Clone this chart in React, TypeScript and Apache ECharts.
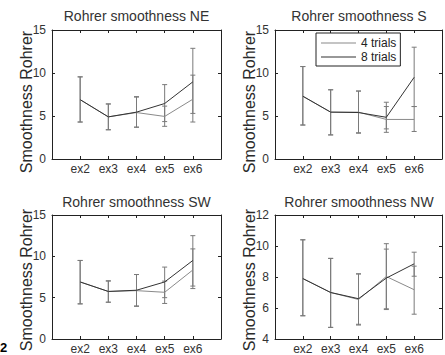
import React, { useEffect, useRef } from "react";
import * as echarts from "echarts";

const categories = ["ex2", "ex3", "ex4", "ex5", "ex6"];
const titles = ["Rohrer smoothness NE", "Rohrer smoothness S", "Rohrer smoothness SW", "Rohrer smoothness NW"];
const yName = "Smoothness Rohrer";
const legendNames = ["4 trials", "8 trials"];

// NE
const neMean4 = [6.9, 4.9, 5.4, 4.95, 6.95];
const neMean8 = [6.9, 4.9, 5.45, 6.45, 8.97];
const neLow4 = [4.3, 3.4, 3.7, 3.8, 4.3];
const neHigh4 = [9.55, 6.4, 7.2, 6.15, 9.75];
const neLow8 = [4.3, 3.4, 3.7, 4.35, 5.3];
const neHigh8 = [9.55, 6.4, 7.25, 8.65, 12.87];

// S
const sMean4 = [7.3, 5.45, 5.45, 4.6, 4.6];
const sMean8 = [7.3, 5.45, 5.4, 4.85, 9.5];
const sLow4 = [3.95, 2.8, 3.0, 3.5, 3.2];
const sHigh4 = [10.75, 8.05, 7.9, 6.1, 6.1];
const sLow8 = [3.95, 2.8, 3.05, 3.1, 6.1];
const sHigh8 = [10.75, 8.05, 7.9, 6.6, 13.0];

// SW
const swMean4 = [6.9, 5.75, 5.85, 5.65, 8.35];
const swMean8 = [6.9, 5.75, 5.9, 6.9, 9.5];
const swLow4 = [4.25, 4.45, 3.95, 4.3, 6.1];
const swHigh4 = [9.5, 7.0, 7.8, 7.0, 10.9];
const swLow8 = [4.25, 4.45, 4.0, 5.0, 6.4];
const swHigh8 = [9.5, 7.05, 7.8, 8.7, 12.5];

// NW
const nwMean4 = [7.9, 7.0, 6.55, 8.03, 7.18];
const nwMean8 = [7.9, 7.0, 6.6, 7.93, 8.85];
const nwLow4 = [5.5, 4.75, 4.9, 5.9, 5.6];
const nwHigh4 = [10.4, 9.2, 8.2, 10.15, 8.7];
const nwLow8 = [5.5, 4.75, 4.95, 5.95, 8.05];
const nwHigh8 = [10.4, 9.2, 8.2, 9.8, 9.6];

const yRanges = [
  { min: 0, max: 15, interval: 5 },
  { min: 0, max: 15, interval: 5 },
  { min: 0, max: 15, interval: 5 },
  { min: 4, max: 12, interval: 2 },
];

const panels = [
  { m4: neMean4, m8: neMean8, l4: neLow4, h4: neHigh4, l8: neLow8, h8: neHigh8 },
  { m4: sMean4, m8: sMean8, l4: sLow4, h4: sHigh4, l8: sLow8, h8: sHigh8 },
  { m4: swMean4, m8: swMean8, l4: swLow4, h4: swHigh4, l8: swLow8, h8: swHigh8 },
  { m4: nwMean4, m8: nwMean8, l4: nwLow4, h4: nwHigh4, l8: nwLow8, h8: nwHigh8 },
];

const grids = [
  { left: 52, top: 30, width: 169, height: 129 },
  { left: 275, top: 30, width: 168, height: 129 },
  { left: 52, top: 215, width: 169, height: 124 },
  { left: 275, top: 215, width: 168, height: 125 },
];

const FONT = "'Liberation Sans', Arial, Helvetica, sans-serif";
const AXIS = "#222";
const C4 = "#8a8a8a";
const C8 = "#333333";
const CERR = "#7a7a7a";

export default function App() {
  const ref = useRef<HTMLDivElement>(null);
  useEffect(() => {
    if (!ref.current) return;
    const chart = echarts.init(ref.current, undefined, { renderer: "svg" });

    const xAxes: any[] = [];
    const yAxes: any[] = [];
    const series: any[] = [];
    const graphics: any[] = [];

    grids.forEach((g, i) => {
      const tick = { show: true, inside: true, length: 3, lineStyle: { color: AXIS, width: 1 } };
      const line = { show: true, onZero: false, lineStyle: { color: AXIS, width: 1 } };
      xAxes.push({
        type: "value", gridIndex: i, position: "bottom", min: 0, max: 6, interval: 1,
        axisLine: line, axisTick: tick, splitLine: { show: false },
        axisLabel: {
          margin: 4, fontSize: 12, color: "#333", fontFamily: FONT,
          formatter: (v: number) => (v >= 1 && v <= 5 ? categories[v - 1] : ""),
        },
      });
      xAxes.push({
        type: "value", gridIndex: i, position: "top", min: 0, max: 6, interval: 1,
        axisLine: line, axisTick: tick, splitLine: { show: false }, axisLabel: { show: false },
      });
      const r = yRanges[i];
      yAxes.push({
        type: "value", gridIndex: i, position: "left", min: r.min, max: r.max, interval: r.interval,
        axisLine: line, axisTick: tick, splitLine: { show: false },
        axisLabel: { margin: 6, fontSize: 12, color: "#333", fontFamily: FONT },
      });
      yAxes.push({
        type: "value", gridIndex: i, position: "right", min: r.min, max: r.max, interval: r.interval,
        axisLine: line, axisTick: tick, splitLine: { show: false }, axisLabel: { show: false },
      });

      const p = panels[i];
      const errData = (lo: number[], hi: number[]) => lo.map((v, k) => [k + 1, v, hi[k]]);
      const renderErr = (params: any, api: any) => {
        const x = api.value(0);
        const a = api.coord([x, api.value(1)]);
        const b = api.coord([x, api.value(2)]);
        const w = 2.5;
        const st = { stroke: CERR, lineWidth: 1 };
        return {
          type: "group",
          children: [
            { type: "line", shape: { x1: a[0], y1: a[1], x2: b[0], y2: b[1] }, style: st },
            { type: "line", shape: { x1: a[0] - w, y1: a[1], x2: a[0] + w, y2: a[1] }, style: st },
            { type: "line", shape: { x1: b[0] - w, y1: b[1], x2: b[0] + w, y2: b[1] }, style: st },
          ],
        };
      };
      series.push({
        type: "custom", xAxisIndex: 2 * i, yAxisIndex: 2 * i, renderItem: renderErr,
        data: errData(p.l4, p.h4), encode: { x: 0, y: [1, 2] }, silent: true,
      });
      series.push({
        type: "custom", xAxisIndex: 2 * i, yAxisIndex: 2 * i, renderItem: renderErr,
        data: errData(p.l8, p.h8), encode: { x: 0, y: [1, 2] }, silent: true,
      });
      series.push({
        name: legendNames[0], type: "line", xAxisIndex: 2 * i, yAxisIndex: 2 * i,
        data: p.m4.map((v, k) => [k + 1, v]), symbol: "none",
        lineStyle: { color: C4, width: 1 }, itemStyle: { color: C4 },
      });
      series.push({
        name: legendNames[1], type: "line", xAxisIndex: 2 * i, yAxisIndex: 2 * i,
        data: p.m8.map((v, k) => [k + 1, v]), symbol: "none",
        lineStyle: { color: C8, width: 1 }, itemStyle: { color: C8 },
      });

      const cx = g.left + g.width / 2;
      graphics.push({
        type: "text", x: cx, y: i < 2 ? 16 : 202,
        style: { text: titles[i], align: "center", verticalAlign: "middle", fontSize: 14, fontFamily: FONT, fill: "#333" },
      });
      graphics.push({
        type: "text", x: g.left - 26, y: i < 2 ? 102 : 280, rotation: Math.PI / 2,
        style: { text: yName, align: "center", verticalAlign: "middle", fontSize: 16, fontFamily: FONT, fill: "#2a2a2a" },
      });
    });

    graphics.push({
      type: "text", x: 0, y: 341,
      style: { text: "2", fontSize: 13, fontWeight: "bold", fontFamily: FONT, fill: "#000" },
    });

    chart.setOption({
      animation: false,
      backgroundColor: "#fff",
      grid: grids.map((g) => ({ ...g, containLabel: false })),
      xAxis: xAxes,
      yAxis: yAxes,
      series,
      legend: {
        data: legendNames.map((n) => ({ name: n, textStyle: { color: "#222" } })),
        orient: "vertical", left: 316, top: 33,
        borderColor: AXIS, borderWidth: 1, backgroundColor: "#fff",
        padding: [4, 4, 3, 5], itemWidth: 35, itemHeight: 1, itemGap: 2,
        icon: "rect",
        textStyle: { fontSize: 12, color: "#222", fontFamily: FONT },
        selectedMode: false,
      },
      graphic: graphics,
    });
    return () => chart.dispose();
  }, []);
  return (
    <div ref={ref} style={{ position: "absolute", left: 0, top: 0, width: 445, height: 355 }} />
  );
}
